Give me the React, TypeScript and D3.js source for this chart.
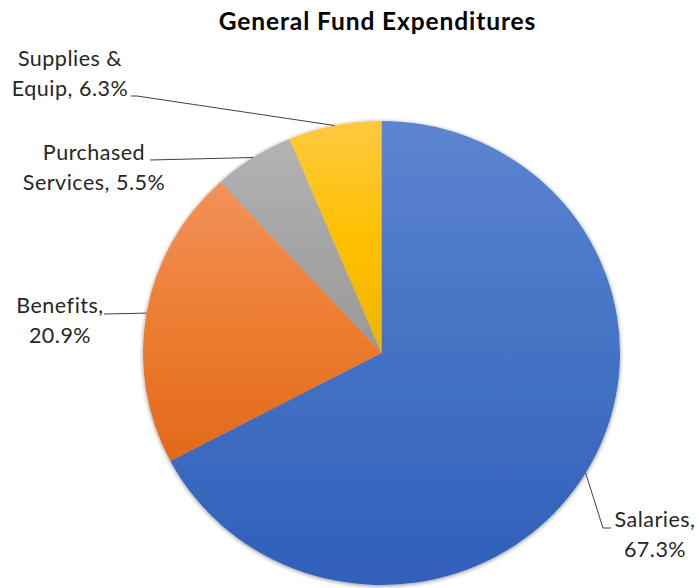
import { useMemo } from "react";
import * as d3 from "d3";

// Chart data
const categories = ["Salaries", "Benefits", "Purchased Services", "Supplies & Equip"];
const shares = [67.3, 20.9, 5.5, 6.3];
const labelLines = [
  ["Salaries,", "67.3%"],
  ["Benefits,", "20.9%"],
  ["Purchased", "Services, 5.5%"],
  ["Supplies &", "Equip, 6.3%"],
];

// gradient stops per slice: light top, base middle, dark bottom
const sliceColors = [
  ["#5C85D0", "#4472C4", "#2F60BA"],
  ["#F2925A", "#ED7D31", "#E2691B"],
  ["#B3B3B3", "#A5A5A5", "#999999"],
  ["#FFC940", "#FFC000", "#EDB400"],
];

// label layout: text center x, first baseline, leader line elbow points
const labelLayout = [
  { x: 655, y: 527, elbow: [[603, 528], [611, 528]] },
  { x: 60, y: 313, elbow: [[104, 314]] },
  { x: 94, y: 160, elbow: [[150, 160]] },
  { x: 70, y: 66, elbow: [[137, 96], [131, 96]] },
];

const WIDTH = 698;
const HEIGHT = 588;
const CX = 381.5;
const CY = 353;
const RX = 238.5;
const RY = 232;

export default function App() {
  const arcs = useMemo(
    () =>
      d3
        .pie<number>()
        .sort(null)
        .value((d) => d)(shares),
    []
  );

  const arcGen = d3.arc<d3.PieArcDatum<number>>().innerRadius(0).outerRadius(RX);
  const sy = RY / RX;

  return (
    <svg
      width={WIDTH}
      height={HEIGHT}
      style={{ position: "absolute", left: 0, top: 0, background: "#fff" }}
      fontFamily="Lato, 'Noto Sans', sans-serif"
    >
      <defs>
        {sliceColors.map((c, i) => (
          <linearGradient key={i} id={`g${i}`} x1="0" y1="0" x2="0" y2="1">
            <stop offset="0" stopColor={c[0]} />
            <stop offset="0.5" stopColor={c[1]} />
            <stop offset="1" stopColor={c[2]} />
          </linearGradient>
        ))}
        <filter id="shadow" x="-10%" y="-10%" width="120%" height="120%">
          <feDropShadow dx="0" dy="1" stdDeviation="2.2" floodColor="#000" floodOpacity="0.45" />
        </filter>
      </defs>

      <text
        x={377.5}
        y={30}
        textAnchor="middle"
        fontWeight="bold"
        fontSize={24.5}
        letterSpacing={0.9}
        fill="#000"
      >
        General Fund Expenditures
      </text>

      <g transform={`translate(${CX},${CY}) scale(1,${sy})`} filter="url(#shadow)">
        {arcs.map((a, i) => (
          <path key={categories[i]} d={arcGen(a) ?? ""} fill={`url(#g${i})`} />
        ))}
      </g>

      {arcs.map((a, i) => {
        const mid = (a.startAngle + a.endAngle) / 2;
        const px = CX + Math.sin(mid) * RX;
        const py = CY - Math.cos(mid) * RY;
        const pts = [[px, py], ...labelLayout[i].elbow];
        return (
          <path
            key={`l${i}`}
            d={d3.line()(pts as [number, number][]) ?? ""}
            fill="none"
            stroke="#404040"
            strokeWidth={1}
          />
        );
      })}

      {labelLines.map((lines, i) => (
        <text
          key={`t${i}`}
          x={labelLayout[i].x}
          y={labelLayout[i].y}
          textAnchor="middle"
          fontSize={21.5}
          letterSpacing={0.5}
          fill="#262626"
        >
          {lines.map((s, j) => (
            <tspan key={j} x={labelLayout[i].x} y={labelLayout[i].y + j * 30}>
              {s}
            </tspan>
          ))}
        </text>
      ))}
    </svg>
  );
}
